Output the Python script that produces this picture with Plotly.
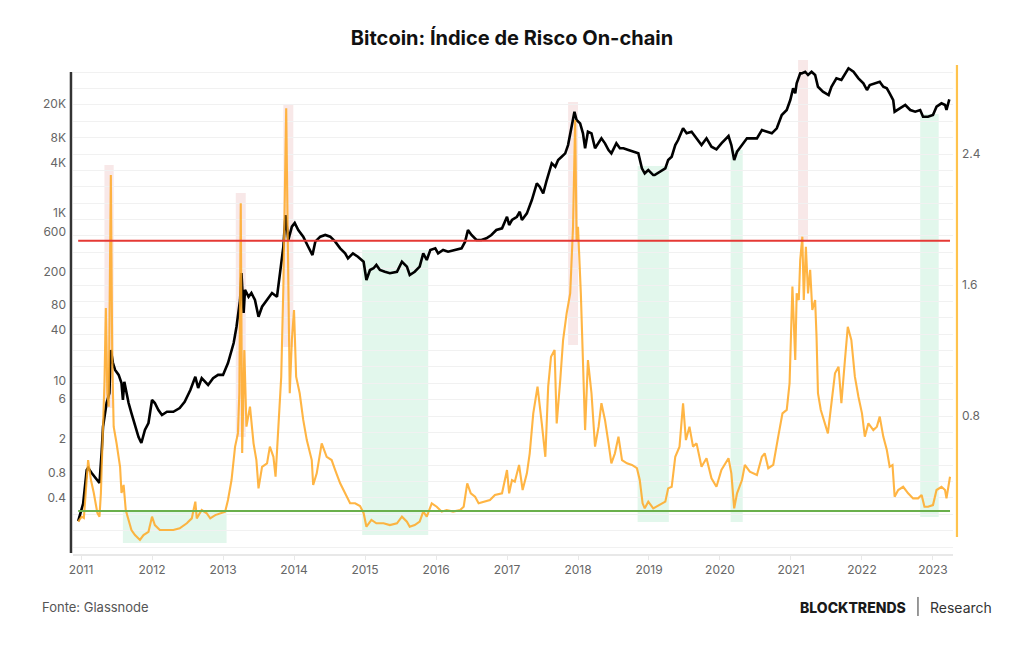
import plotly.graph_objects as go

# ---------------- data ----------------
# Bitcoin price (USD, log axis) - time as decimal years
t_price = [2010.96, 2011.03, 2011.08, 2011.10, 2011.15, 2011.22, 2011.26, 2011.29, 2011.31, 2011.36,
           2011.40, 2011.42, 2011.45, 2011.48, 2011.53, 2011.57, 2011.59, 2011.61, 2011.67, 2011.71,
           2011.76, 2011.81, 2011.85, 2011.90, 2011.95, 2012.00, 2012.04, 2012.09, 2012.14, 2012.21,
           2012.30, 2012.39, 2012.46, 2012.54, 2012.61, 2012.65, 2012.70, 2012.79, 2012.86, 2012.93,
           2013.00, 2013.07, 2013.15, 2013.19, 2013.24, 2013.26, 2013.29, 2013.31, 2013.36, 2013.40,
           2013.45, 2013.50, 2013.55, 2013.62, 2013.69, 2013.76, 2013.80, 2013.85, 2013.88, 2013.92,
           2013.97, 2014.01, 2014.06, 2014.13, 2014.20, 2014.26, 2014.30, 2014.37, 2014.44, 2014.51,
           2014.58, 2014.65, 2014.72, 2014.76, 2014.83, 2014.90, 2014.98, 2015.02, 2015.07, 2015.12,
           2015.16, 2015.21, 2015.28, 2015.35, 2015.45, 2015.52, 2015.59, 2015.63, 2015.70, 2015.77,
           2015.82, 2015.87, 2015.92, 2015.99, 2016.03, 2016.10, 2016.17, 2016.27, 2016.36, 2016.41,
           2016.45, 2016.50, 2016.57, 2016.64, 2016.71, 2016.78, 2016.85, 2016.93, 2017.00, 2017.03,
           2017.07, 2017.14, 2017.18, 2017.21, 2017.28, 2017.35, 2017.42, 2017.46, 2017.51, 2017.56,
           2017.63, 2017.68, 2017.72, 2017.77, 2017.82, 2017.86, 2017.91, 2017.95, 2017.98, 2018.03,
           2018.07, 2018.10, 2018.14, 2018.19, 2018.24, 2018.29, 2018.33, 2018.38, 2018.43, 2018.47,
           2018.54, 2018.59, 2018.64, 2018.71, 2018.78, 2018.85, 2018.90, 2018.94, 2018.99, 2019.06,
           2019.08, 2019.15, 2019.23, 2019.27, 2019.32, 2019.37, 2019.41, 2019.48, 2019.53, 2019.60,
           2019.67, 2019.74, 2019.81, 2019.88, 2019.95, 2020.02, 2020.12, 2020.16, 2020.20, 2020.24,
           2020.31, 2020.38, 2020.45, 2020.52, 2020.59, 2020.66, 2020.73, 2020.80, 2020.87, 2020.94,
           2020.99, 2021.03, 2021.06, 2021.08, 2021.10, 2021.13, 2021.15, 2021.20, 2021.24, 2021.29,
           2021.34, 2021.38, 2021.45, 2021.53, 2021.57, 2021.64, 2021.71, 2021.81, 2021.88, 2021.95,
           2022.02, 2022.07, 2022.11, 2022.18, 2022.25, 2022.30, 2022.35, 2022.39, 2022.44, 2022.46,
           2022.54, 2022.61, 2022.68, 2022.75, 2022.82, 2022.86, 2022.93, 2023.00, 2023.05, 2023.12,
           2023.17, 2023.19, 2023.23]
price = [0.21, 0.34, 0.86, 0.91, 0.79, 0.65, 0.60, 1.37, 2.82, 5.41,
         7.11, 23.2, 16.2, 13.4, 11.7, 9.36, 5.87, 9.70, 5.41, 4.10,
         2.95, 2.12, 1.80, 2.58, 3.12, 5.87, 5.41, 4.46, 3.88, 4.25,
         4.25, 4.71, 5.60, 7.73, 11.1, 8.16, 10.7, 8.87, 10.7, 11.7,
         11.7, 16.2, 28.1, 44.0, 91.6, 192, 64.1, 121, 100, 111,
         91.6, 57.9, 76.2, 91.6, 111, 100, 174, 396, 946, 476,
         687, 760, 627, 522, 396, 315, 455, 522, 547, 522,
         455, 379, 330, 288, 330, 301, 262, 159, 209, 219,
         240, 209, 199, 191, 199, 262, 229, 182, 199, 229,
         330, 275, 362, 379, 330, 362, 345, 362, 379, 455,
         627, 547, 476, 476, 499, 547, 627, 656, 903, 719,
         825, 903, 1037, 825, 991, 1429, 2259, 2061, 1718, 2477,
         3918, 3573, 4289, 4696, 5152, 6471, 10710, 16180, 12880, 11750,
         8930, 5917, 9333, 8930, 5917, 6790, 7786, 6790, 5650, 5152,
         6790, 5917, 5917, 5650, 5388, 5152, 3415, 2977, 3260, 2838,
         2838, 3112, 3415, 4289, 4696, 6471, 7430, 10250, 8930, 9333,
         7786, 6471, 7786, 6180, 5754, 6790, 8300, 6471, 4289, 5388,
         6471, 7786, 7786, 7786, 9780, 9333, 8930, 10250, 14770, 16950,
         22290, 30760, 26790, 35300, 38650, 46450, 46450, 48530, 44360, 48530,
         44360, 32140, 28050, 25590, 32140, 40490, 38650, 53330, 48530, 40490,
         35300, 29380, 33650, 35300, 36900, 32140, 30760, 26790, 22290, 16180,
         17750, 19450, 16950, 16180, 16950, 14090, 14090, 14770, 18550, 20370,
         19450, 16950, 22750]

# On-chain risk index (right axis)
t_risk = [2010.96, 2011.01, 2011.04, 2011.07, 2011.10, 2011.14, 2011.18, 2011.23, 2011.26, 2011.28,
          2011.31, 2011.33, 2011.35, 2011.37, 2011.39, 2011.42, 2011.44, 2011.46, 2011.50, 2011.55,
          2011.57, 2011.60, 2011.63, 2011.67, 2011.71, 2011.76, 2011.83, 2011.88, 2011.95, 2012.00,
          2012.04, 2012.11, 2012.21, 2012.30, 2012.39, 2012.49, 2012.56, 2012.61, 2012.63, 2012.70,
          2012.77, 2012.82, 2012.89, 2012.96, 2013.03, 2013.07, 2013.12, 2013.17, 2013.21, 2013.23,
          2013.25, 2013.27, 2013.30, 2013.33, 2013.38, 2013.43, 2013.47, 2013.50, 2013.55, 2013.62,
          2013.66, 2013.71, 2013.74, 2013.78, 2013.82, 2013.85, 2013.87, 2013.89, 2013.91, 2013.94,
          2013.97, 2014.00, 2014.03, 2014.08, 2014.13, 2014.18, 2014.25, 2014.27, 2014.32, 2014.39,
          2014.46, 2014.53, 2014.58, 2014.65, 2014.72, 2014.79, 2014.86, 2014.93, 2014.98, 2015.02,
          2015.09, 2015.16, 2015.26, 2015.35, 2015.45, 2015.52, 2015.59, 2015.63, 2015.70, 2015.77,
          2015.82, 2015.87, 2015.94, 2016.01, 2016.08, 2016.15, 2016.24, 2016.34, 2016.39, 2016.44,
          2016.49, 2016.55, 2016.60, 2016.67, 2016.76, 2016.83, 2016.93, 2017.00, 2017.03, 2017.07,
          2017.11, 2017.17, 2017.22, 2017.28, 2017.32, 2017.37, 2017.43, 2017.49, 2017.54, 2017.58,
          2017.62, 2017.67, 2017.70, 2017.75, 2017.79, 2017.84, 2017.89, 2017.93, 2017.96, 2017.98,
          2018.00, 2018.04, 2018.07, 2018.10, 2018.14, 2018.19, 2018.24, 2018.29, 2018.33, 2018.38,
          2018.43, 2018.47, 2018.52, 2018.57, 2018.62, 2018.69, 2018.76, 2018.83, 2018.87, 2018.91,
          2018.94, 2018.99, 2019.06, 2019.15, 2019.23, 2019.27, 2019.32, 2019.37, 2019.43, 2019.48,
          2019.52, 2019.57, 2019.62, 2019.67, 2019.74, 2019.81, 2019.88, 2019.95, 2020.02, 2020.12,
          2020.16, 2020.20, 2020.24, 2020.31, 2020.35, 2020.42, 2020.52, 2020.59, 2020.63, 2020.68,
          2020.75, 2020.82, 2020.88, 2020.94, 2020.98, 2021.02, 2021.06, 2021.08, 2021.11, 2021.13,
          2021.16, 2021.18, 2021.21, 2021.24, 2021.27, 2021.30, 2021.34, 2021.36, 2021.38, 2021.42,
          2021.46, 2021.52, 2021.57, 2021.62, 2021.67, 2021.71, 2021.76, 2021.80, 2021.85, 2021.90,
          2021.95, 2022.00, 2022.04, 2022.09, 2022.16, 2022.21, 2022.25, 2022.30, 2022.35, 2022.39,
          2022.43, 2022.46, 2022.51, 2022.58, 2022.65, 2022.72, 2022.79, 2022.84, 2022.88, 2022.93,
          2023.00, 2023.05, 2023.12, 2023.17, 2023.19, 2023.24]
risk = [0.155, 0.185, 0.177, 0.348, 0.531, 0.409, 0.330, 0.208, 0.185, 0.330,
        0.735, 1.002, 1.460, 0.940, 0.857, 2.272, 1.142, 0.735, 0.635, 0.490,
        0.330, 0.379, 0.226, 0.165, 0.104, 0.073, 0.043, 0.073, 0.093, 0.185,
        0.134, 0.104, 0.104, 0.104, 0.114, 0.145, 0.175, 0.277, 0.175, 0.226,
        0.206, 0.175, 0.195, 0.206, 0.216, 0.287, 0.409, 0.613, 0.694, 0.940,
        2.099, 0.574, 1.203, 0.735, 0.857, 0.633, 0.531, 0.358, 0.490, 0.511,
        0.613, 0.551, 0.429, 0.735, 1.040, 1.590, 2.160, 2.679, 1.956, 0.939,
        1.264, 1.447, 1.040, 0.939, 0.776, 0.653, 0.531, 0.379, 0.450, 0.633,
        0.551, 0.531, 0.470, 0.389, 0.328, 0.267, 0.267, 0.250, 0.208, 0.124,
        0.165, 0.145, 0.145, 0.134, 0.145, 0.185, 0.155, 0.124, 0.134, 0.155,
        0.216, 0.185, 0.267, 0.246, 0.216, 0.226, 0.216, 0.226, 0.246, 0.389,
        0.328, 0.307, 0.267, 0.277, 0.287, 0.318, 0.328, 0.470, 0.328, 0.409,
        0.399, 0.501, 0.348, 0.450, 0.572, 0.816, 0.979, 0.755, 0.551, 0.979,
        1.162, 1.203, 0.755, 1.020, 1.264, 1.427, 1.549, 1.956, 2.608, 1.875,
        1.956, 1.549, 1.183, 0.714, 1.142, 0.939, 0.613, 0.735, 0.878, 0.776,
        0.633, 0.511, 0.572, 0.674, 0.531, 0.511, 0.501, 0.481, 0.409, 0.267,
        0.236, 0.277, 0.236, 0.256, 0.277, 0.358, 0.368, 0.551, 0.613, 0.878,
        0.653, 0.735, 0.613, 0.633, 0.490, 0.542, 0.420, 0.368, 0.470, 0.542,
        0.450, 0.236, 0.328, 0.409, 0.501, 0.460, 0.440, 0.551, 0.572, 0.481,
        0.501, 0.674, 0.816, 0.837, 1.000, 1.590, 1.142, 1.549, 1.508, 1.753,
        1.895, 1.508, 1.834, 1.549, 1.692, 1.447, 1.508, 1.284, 0.939, 0.837,
        0.776, 0.694, 0.878, 1.061, 1.101, 0.878, 1.142, 1.345, 1.264, 1.040,
        0.918, 0.816, 0.674, 0.755, 0.714, 0.735, 0.796, 0.674, 0.592, 0.490,
        0.501, 0.307, 0.348, 0.368, 0.328, 0.297, 0.297, 0.318, 0.246, 0.246,
        0.256, 0.348, 0.368, 0.348, 0.297, 0.429]

# thresholds of the risk index
risk_high = 1.87
risk_low = 0.22

# highlighted periods: (start, end, risk_bottom, risk_top)
high_risk_periods = [(2011.33, 2011.46, 0.849, 2.333),
                     (2013.18, 2013.32, 0.672, 2.162),
                     (2013.85, 2013.99, 1.221, 2.705),
                     (2017.86, 2018.00, 1.234, 2.718),
                     (2021.10, 2021.24, 1.875, 2.974)]
low_risk_periods = [(2011.59, 2013.05, 0.024, 0.226),
                    (2014.96, 2015.89, 0.073, 1.814),
                    (2018.84, 2019.28, 0.153, 2.327),
                    (2020.15, 2020.32, 0.153, 2.424),
                    (2022.82, 2023.08, 0.183, 2.644)]

years = list(range(2011, 2024))
price_ticks = [20000, 8000, 4000, 1000, 600, 200, 80, 40, 10, 6, 2, 0.8, 0.4]
price_labels = ["20K", "8K", "4K", "1K", "600", "200", "80", "40", "10", "6", "2", "0.8", "0.4"]
risk_ticks = [0.8, 1.6, 2.4]
risk_labels = ["0.8", "1.6", "2.4"]

# ---------------- figure ----------------
FONT = "Inter, Roboto, 'Open Sans', sans-serif"
ORANGE = "rgba(255,168,35,0.85)"

fig = go.Figure()

fig.add_trace(go.Scatter(x=t_price, y=price, mode="lines", yaxis="y",
                         line=dict(color="#000000", width=2.6), showlegend=False,
                         hoverinfo="skip"))
fig.add_trace(go.Scatter(x=t_risk, y=risk, mode="lines", yaxis="y2",
                         line=dict(color=ORANGE, width=2.1), showlegend=False,
                         hoverinfo="skip"))

shapes = []
for (a, b, lo, hi) in high_risk_periods:
    shapes.append(dict(type="rect", xref="x", yref="y2", x0=a, x1=b, y0=lo, y1=hi,
                       fillcolor="rgba(236,190,190,0.35)", line=dict(width=0), layer="below"))
for (a, b, lo, hi) in low_risk_periods:
    shapes.append(dict(type="rect", xref="x", yref="y2", x0=a, x1=b, y0=lo, y1=hi,
                       fillcolor="rgba(140,225,180,0.25)", line=dict(width=0), layer="below"))
# threshold lines
shapes.append(dict(type="line", xref="x", yref="y2", x0=t_risk[0], x1=t_risk[-1],
                   y0=risk_high, y1=risk_high, line=dict(color="#e53935", width=2)))
shapes.append(dict(type="line", xref="x", yref="y2", x0=t_risk[0], x1=t_risk[-1],
                   y0=risk_low, y1=risk_low, line=dict(color="#6ab04c", width=2)))
# axis lines
shapes.append(dict(type="line", xref="paper", yref="paper", x0=-0.0023, x1=-0.0023,
                   y0=0.002, y1=0.9757, line=dict(color="#333333", width=2.5)))
shapes.append(dict(type="line", xref="paper", yref="paper", x0=1.0045, x1=1.0045,
                   y0=0.0344, y1=0.99, line=dict(color="#ffc34d", width=2.2)))
# footer divider
shapes.append(dict(type="line", xref="paper", yref="paper", x0=0.9602, x1=0.9602,
                   y0=-0.087, y1=-0.1255, line=dict(color="#333333", width=1)))

annotations = [
    dict(text="Fonte: Glassnode", xref="paper", yref="paper", x=-0.0375, y=-0.1073,
         xanchor="left", yanchor="middle", showarrow=False,
         font=dict(family=FONT, size=13, color="#555555")),
    dict(text="BLOCKTRENDS", xref="paper", yref="paper", x=0.9489, y=-0.1073,
         xanchor="right", yanchor="middle", showarrow=False,
         font=dict(family=FONT, size=14, color="#1a1a1a", weight=800)),
    dict(text="Research", xref="paper", yref="paper", x=0.9716, y=-0.1073,
         xanchor="left", yanchor="middle", showarrow=False,
         font=dict(family=FONT, size=14, color="#333333")),
]

fig.update_layout(
    width=1024, height=645,
    margin=dict(l=73, r=71, t=60, b=91),
    paper_bgcolor="white", plot_bgcolor="white",
    title=dict(text="<b>Bitcoin: Índice de Risco On-chain</b>", x=0.5, xanchor="center",
               y=1 - 38 / 645, yanchor="middle",
               font=dict(family=FONT, size=20, color="#111111")),
    xaxis=dict(range=[2010.887, 2023.282], tickmode="array", tickvals=years,
               ticktext=[str(y) for y in years], showgrid=False, zeroline=False,
               showline=True, linecolor="#e8e8e8", linewidth=1.5,
               ticks="outside", ticklen=4, tickcolor="#e8e8e8",
               tickfont=dict(family=FONT, size=12, color="#666666")),
    yaxis=dict(type="log", range=[-1.069, 4.826], tickmode="array",
               tickvals=price_ticks, ticktext=price_labels, showgrid=False,
               zeroline=False, showline=False, ticks="",
               tickfont=dict(family=FONT, size=12, color="#666666"),
               ticklabelstandoff=6),
    yaxis2=dict(overlaying="y", side="right", range=[-0.0427, 2.974], tickmode="array",
                tickvals=risk_ticks, ticktext=risk_labels, showgrid=True,
                gridcolor="#f1f1f1", gridwidth=1, zeroline=False, showline=False,
                ticks="", tickfont=dict(family=FONT, size=12, color="#666666"),
                ticklabelstandoff=8,
                minor=dict(tickmode="linear", tick0=0, dtick=0.1, showgrid=True,
                           gridcolor="#f1f1f1", gridwidth=1, ticks="")),
    shapes=shapes,
    annotations=annotations,
)

fig.write_html("out.html")
